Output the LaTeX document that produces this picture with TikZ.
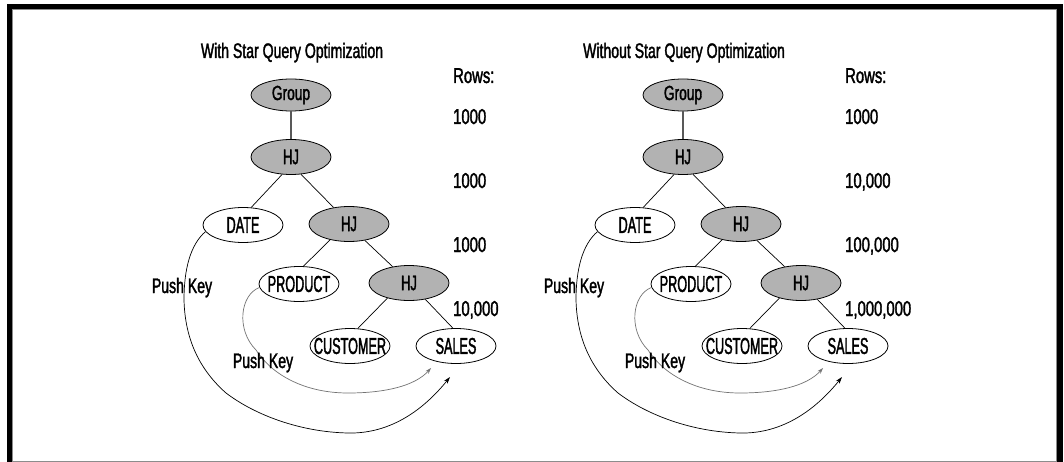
\documentclass[tikz,border=0pt]{standalone}
\usepackage{fontspec}
\setmainfont{Liberation Sans}
\newfontfamily\txtfont[FakeStretch=0.67,FakeBold=1.6]{Liberation Sans}
\newfontfamily\numfont[FakeStretch=0.69,FakeBold=1.6]{Liberation Sans}
\newfontfamily\capfont[FakeStretch=0.55,FakeBold=1.6]{Liberation Sans}
\newfontfamily\hjfont[FakeStretch=0.62,FakeBold=1.6]{Liberation Sans}
\usetikzlibrary{shapes.geometric,arrows.meta}

\definecolor{opfill}{gray}{0.70}
\definecolor{keygray}{gray}{0.45}
\definecolor{rimgray}{gray}{0.55}

% zero-width label so the ellipse keeps its fixed size
\newcommand{\oplabel}[1]{\makebox[0pt]{#1}}

\tikzset{
  op/.style={ellipse, draw=black, line width=0.8pt, inner sep=0pt,
             minimum width=80pt, minimum height=35pt},
  joinop/.style={op, fill=opfill, font=\hjfont\fontsize{21}{24}\selectfont},
  groupop/.style={op, fill=opfill, minimum height=32pt, font=\txtfont\fontsize{20.5}{24}\selectfont},
  tableop/.style={op, fill=white, font=\capfont\fontsize{23}{26}\selectfont},
  edge/.style={draw=black, line width=0.7pt},
  rootedge/.style={draw=black!65, line width=1.1pt},
  caption/.style={inner sep=0pt, anchor=base, font=\txtfont\fontsize{21}{24}\selectfont},
  rowcount/.style={inner sep=0pt, anchor=base west, font=\numfont\fontsize{21.5}{24}\selectfont},
  pushlong/.style={draw=black, line width=0.7pt, -{Stealth[length=7pt,width=4.5pt]}},
  pushshort/.style={draw=keygray, line width=0.7pt, -{Stealth[length=6pt,width=4pt]}},
}

% one execution plan: name prefix, horizontal shift, title, four row counts
\newcommand{\planpanel}[7]{%
  \begin{scope}[xshift=#2, name prefix=#1-]
    \node[caption] (title) at (292,58) {#3};
    \node[rowcount] (rows) at (453,83) {Rows:};
    \node[rowcount] (r1) at (453,124) {#4};
    \node[rowcount] (r2) at (453,188) {#5};
    \node[rowcount] (r3) at (453,252) {#6};
    \node[rowcount] (r4) at (453,316) {#7};

    \node[groupop] (group) at (291,95) {\oplabel{Group}};
    \node[joinop] (hja) at (291,157) {\oplabel{HJ}};
    \node[tableop] (date) at (243,225) {\oplabel{DATE}};
    \node[joinop] (hjb) at (349,224) {\oplabel{HJ}};
    \node[tableop] (product) at (299,284) {\oplabel{PRODUCT}};
    \node[joinop] (hjc) at (409,283) {\oplabel{HJ}};
    \node[tableop] (customer) at (350,346) {\oplabel{CUSTOMER}};
    \node[tableop] (sales) at (456,346) {\oplabel{SALES}};

    \path[rootedge] (group.south) -- (hja.north);
    \path[edge] (hja.243) -- (date.65);
    \path[edge] (hja.300) -- (hjb.133);
    \path[edge] (hjb.220) -- (product.76);
    \path[edge] (hjb.314) -- (hjc.135);
    \path[edge] (hjc.215) -- (customer.66);
    \path[edge] (hjc.315) -- (sales.100);

    \coordinate (keyend-date) at (450,377);
    \coordinate (keyend-product) at (431,368);

    \path[pushlong] (date.190)
      .. controls (190,245) and (184,270) .. (184,300)
      .. controls (185,340) and (200,370) .. (226,393)
      .. controls (255,415) and (300,432) .. (348,433)
      .. controls (392,434) and (425,408) .. (keyend-date);
    \path[pushshort] (product.185)
      .. controls (240,295) and (236,330) .. (256,350)
      .. controls (272,375) and (305,393) .. (348,393)
      .. controls (385,393) and (415,386) .. (keyend-product);

    \node[caption] (keylong) at (182,293) {Push Key};
    \node[caption] (keyshort) at (263,368) {Push Key};
  \end{scope}}

\begin{document}
\begin{tikzpicture}[x=1pt, y=-1pt]
  \useasboundingbox (0,0) rectangle (1064,462);
  \fill[white] (0,0) rectangle (1064,462);

  % frame: thin inner rule with a heavy top, left and right band
  \draw[rimgray, line width=1pt] (12,10) rectangle (1056.5,461.5);
  \fill[black] (7,4) rectangle (1063,9.5);
  \fill[black] (7,4) rectangle (11.5,462);
  \fill[black] (1057,4) rectangle (1063,462);

  \planpanel{with}{0pt}{With Star Query Optimization}{1000}{1000}{1000}{10,000}
  \planpanel{without}{392pt}{Without Star Query Optimization}{1000}{10,000}{100,000}{1,000,000}
\end{tikzpicture}
\end{document}
